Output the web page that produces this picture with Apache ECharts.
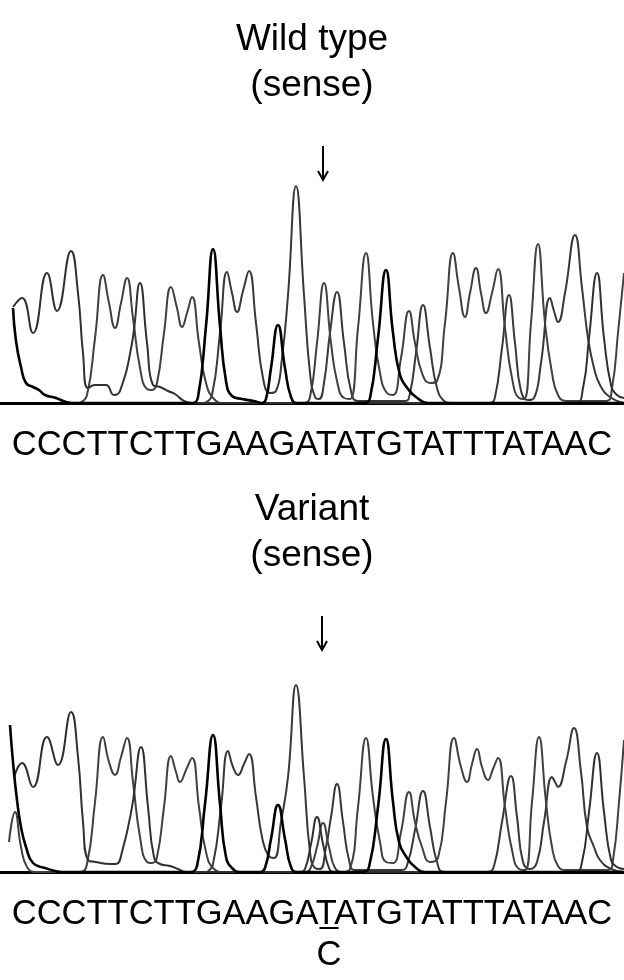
<!DOCTYPE html>
<html>
<head>
<meta charset="utf-8">
<script src="https://cdn.jsdelivr.net/npm/echarts@6/dist/echarts.min.js"></script>
<style>
  html, body { margin: 0; padding: 0; background: #fff; }
  #chart { width: 624px; height: 980px; }
</style>
</head>
<body>
<div id="chart"></div>
<script>
// trace knots: [scan position, signal height]
// peaks, half-height flanks, valleys and feet

// wild type, sense
const wtA = [[205,0],[212,8],[220,70],[227,131],[232,110],[237,91],[243,112],[249,132],[256,80],[263,25],[270,10],[276,12],[282,45],[288,108],[296,217],[304,108],[310,30],[315,6],[319,4],[324,20],[330,70],[337,111],[344,60],[351,12],[358,2],[405,2],[410,10],[416,50],[423,98],[430,55],[437,15],[444,2],[450,0],[490,0],[495,6],[502,55],[509,108],[515,60],[521,12],[528,3],[534,5],[541,40],[550,105],[554,92],[558,81],[565,110],[575,168],[582,115],[588,65],[594,35],[600,18],[610,6],[624,0]];
const wtC = [[13,96],[22,105],[33,70],[47,130],[57,92],[71,152],[78,110],[83,50],[88,15],[95,18],[106,18],[114,8],[120,12],[132,60],[140,120],[147,60],[153,18],[160,16],[168,12],[175,9],[184,2],[192,0],[575,0],[583,15],[589,65],[597,130],[604,65],[611,18],[617,8],[624,5]];
const wtG = [[13,95],[16,62],[21,36],[26,20],[33,16],[39,13],[45,8],[56,5],[66,1],[74,0],[192,0],[198,6],[206,77],[213,154],[220,77],[226,22],[232,7],[242,4],[254,2],[262,0],[266,4],[271,35],[278,78],[285,35],[291,6],[297,0],[364,0],[370,5],[378,65],[386,133],[393,70],[400,28],[408,14],[416,6],[428,0],[624,0]];
const wtT = [[80,0],[87,8],[95,65],[103,128],[109,100],[115,75],[121,100],[127,125],[133,85],[140,35],[147,14],[152,13],[157,20],[164,70],[171,116],[177,95],[182,76],[187,90],[192,106],[199,60],[206,20],[214,4],[224,0],[304,0],[310,6],[317,60],[324,120],[331,60],[337,22],[344,5],[350,4],[358,75],[366,150],[373,80],[380,30],[387,10],[393,8],[401,45],[409,92],[415,60],[422,30],[430,20],[437,22],[445,80],[453,150],[459,115],[465,86],[470,110],[476,135],[481,110],[486,90],[492,110],[498,134],[505,75],[512,25],[519,5],[524,4],[531,80],[538,159],[545,80],[552,30],[558,8],[566,2],[606,2],[612,15],[618,70],[624,130]];

// variant, sense
const varA = [[207,0],[213,8],[221,65],[228,121],[233,105],[238,97],[244,108],[249,118],[256,75],[262,35],[268,17],[274,14],[281,50],[288,95],[296,187],[304,95],[310,20],[315,4],[320,3],[326,25],[331,55],[337,88],[343,50],[349,12],[355,2],[402,2],[408,10],[415,42],[423,81],[430,45],[437,10],[444,0],[488,0],[494,6],[502,50],[511,96],[517,55],[523,10],[530,3],[537,10],[544,50],[552,95],[555,90],[558,85],[566,110],[574,144],[581,100],[587,45],[594,25],[600,12],[611,3],[624,0]];
const varC = [[14,95],[22,109],[33,85],[47,135],[58,107],[71,160],[78,115],[83,50],[88,12],[96,10],[110,8],[116,8],[122,20],[132,65],[141,125],[148,65],[154,15],[160,8],[170,6],[178,3],[186,0],[300,0],[305,3],[311,28],[317,55],[323,28],[329,4],[334,0],[575,0],[582,10],[589,60],[597,119],[604,60],[611,12],[617,5],[624,3]];
const varG = [[10,147],[13,110],[17,72],[21,45],[26,25],[33,9],[45,4],[55,1],[62,0],[190,0],[197,6],[205,68],[213,137],[220,68],[226,15],[233,3],[240,0],[260,0],[265,4],[271,33],[278,67],[285,33],[291,5],[297,0],[362,0],[369,5],[378,65],[386,133],[393,70],[399,30],[407,14],[415,5],[425,0],[624,0]];
const varT = [[9,30],[15,60],[21,25],[27,5],[36,0],[80,0],[87,8],[95,70],[103,135],[109,110],[115,97],[121,115],[127,134],[133,90],[140,35],[147,10],[152,9],[157,15],[164,65],[171,116],[176,100],[180,90],[186,102],[192,114],[199,65],[206,20],[214,3],[224,0],[306,0],[311,5],[317,25],[323,49],[329,25],[335,4],[342,0],[350,3],[358,65],[366,134],[373,75],[380,30],[386,10],[393,9],[401,40],[409,80],[415,50],[422,25],[430,10],[438,14],[446,70],[454,134],[461,105],[467,90],[472,108],[477,123],[482,105],[488,92],[493,103],[498,114],[505,65],[512,22],[519,3],[525,2],[532,70],[539,135],[546,70],[552,25],[558,6],[566,2],[608,2],[613,12],[619,70],[624,132]];

const titles = [['Wild type', '(sense)'], ['Variant', '(sense)']];
const sequence = 'CCCTTCTTGAAGATATGTATTTATAAC';
const mutIndex = 13;
const mutBase = 'C';

const chart = echarts.init(document.getElementById('chart'));

const FONT = '"Liberation Sans", Arial, sans-serif';
const TITLE_FONT = '37px ' + FONT;
const SEQ_FONT = '34.5px ' + FONT;
const CX = 312;

// trace colours (grey scale print)
const traceStyle = {
    A: { color: '#383838', width: 2 },
    T: { color: '#404040', width: 2 },
    C: { color: '#303030', width: 2 },
    G: { color: '#000000', width: 2.6 }
};

function traceSeries(name, data, idx) {
    return {
        name: name,
        type: 'line',
        xAxisIndex: idx,
        yAxisIndex: idx,
        data: data,
        smooth: 0.5,
        showSymbol: false,
        silent: true,
        lineStyle: traceStyle[name],
        z: name === 'G' ? 3 : 2
    };
}

// where the mutated base sits in the sequence line
const ctx = document.createElement('canvas').getContext('2d');
ctx.font = SEQ_FONT;
const fullW = ctx.measureText(sequence).width;
const preW = ctx.measureText(sequence.slice(0, mutIndex)).width;
const baseW = ctx.measureText(sequence[mutIndex]).width;
const mutX = CX - fullW / 2 + preW;

function text(str, x, y, font) {
    return {
        type: 'text',
        x: x,
        y: y,
        style: {
            text: str,
            font: font,
            fill: '#000',
            textAlign: 'center',
            textVerticalAlign: 'middle',
            verticalAlign: 'middle'
        }
    };
}

function arrow(x, y1, y2) {
    return [
        { type: 'line', shape: { x1: x, y1: y1, x2: x, y2: y2 }, style: { stroke: '#000', lineWidth: 2 } },
        { type: 'polyline', shape: { points: [[x - 5, y2 - 9], [x, y2], [x + 5, y2 - 9]] }, style: { stroke: '#000', lineWidth: 2, fill: null } }
    ];
}

const graphics = [
    text(titles[0][0], CX, 40, TITLE_FONT),
    text(titles[0][1], CX, 86, TITLE_FONT),
    ...arrow(323, 146, 180),
    text(sequence, CX, 445, SEQ_FONT),

    text(titles[1][0], CX, 510, TITLE_FONT),
    text(titles[1][1], CX, 556, TITLE_FONT),
    ...arrow(322, 616, 650),
    text(sequence, CX, 914, SEQ_FONT),
    { type: 'rect', shape: { x: mutX + 1, y: 927, width: baseW - 2, height: 2 }, style: { fill: '#000' } },
    text(mutBase, mutX + baseW / 2, 955, SEQ_FONT)
];

const axisX = idx => ({
    type: 'value',
    gridIndex: idx,
    min: 0,
    max: 624,
    axisLine: { show: true, lineStyle: { color: '#000', width: 3 } },
    axisTick: { show: false },
    axisLabel: { show: false },
    splitLine: { show: false }
});
const axisY = idx => ({
    type: 'value',
    gridIndex: idx,
    min: 0,
    max: 230,
    show: false
});

chart.setOption({
    animation: false,
    backgroundColor: '#fff',
    grid: [
        { left: 0, right: 0, top: 173, height: 230 },
        { left: 0, right: 0, top: 642, height: 230 }
    ],
    xAxis: [axisX(0), axisX(1)],
    yAxis: [axisY(0), axisY(1)],
    series: [
        traceSeries('A', wtA, 0),
        traceSeries('T', wtT, 0),
        traceSeries('C', wtC, 0),
        traceSeries('G', wtG, 0),
        traceSeries('A', varA, 1),
        traceSeries('T', varT, 1),
        traceSeries('C', varC, 1),
        traceSeries('G', varG, 1)
    ],
    graphic: graphics
});
</script>
</body>
</html>
